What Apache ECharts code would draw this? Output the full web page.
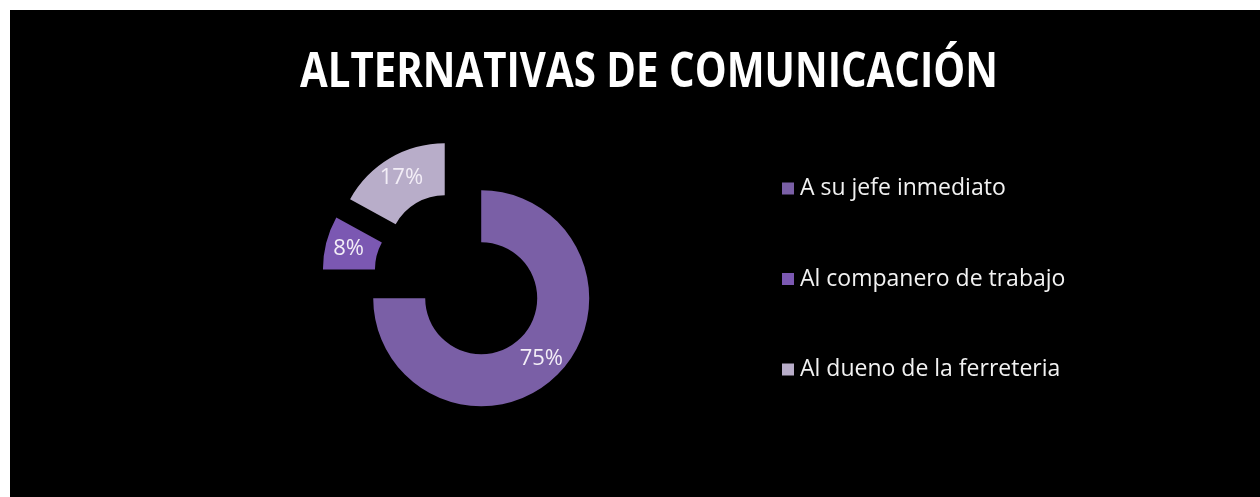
<!DOCTYPE html>
<html>
<head>
<meta charset="utf-8">
<script src="https://cdn.jsdelivr.net/npm/echarts@6/dist/echarts.min.js"></script>
<style>
  html, body { margin: 0; padding: 0; background: #ffffff; }
  #chart { position: absolute; left: 10px; top: 10px; width: 1250px; height: 487px; background: #000000; }
</style>
</head>
<body>
<div id="chart"></div>
<script>
// Chart content
const chartTitle = 'ALTERNATIVAS DE COMUNICACIÓN';
const categories = ['A su jefe inmediato', 'Al companero de trabajo', 'Al dueno de la ferreteria'];
const shares = [75, 8, 17];
const sliceColors = ['#7a5fa6', '#7b58b2', '#b8adc9'];

// Fit the title to the width of a narrow bold face
const titleFont = 'bold 49px "Open Sans", sans-serif';
const ctx = document.createElement('canvas').getContext('2d');
ctx.font = titleFont;
const titleScale = 698 / ctx.measureText(chartTitle).width;

const chart = echarts.init(document.getElementById('chart'));
chart.setOption({
  backgroundColor: '#000000',
  animation: false,
  graphic: [{
    type: 'text',
    x: 639,
    y: 63,
    scaleX: titleScale,
    style: {
      text: chartTitle,
      font: titleFont,
      fill: '#ffffff',
      align: 'center',
      verticalAlign: 'middle'
    }
  }],
  legend: {
    orient: 'vertical',
    left: 772,
    top: 166,
    padding: 0,
    icon: 'rect',
    itemWidth: 12,
    itemHeight: 12,
    itemGap: 65.5,
    selectedMode: false,
    textStyle: {
      color: '#f2f2f2',
      fontFamily: 'Open Sans',
      fontSize: 23,
      lineHeight: 25,
      padding: [0, 0, 0, 1]
    },
    data: categories
  },
  series: [{
    type: 'pie',
    center: [450, 267],
    radius: [56, 108],
    startAngle: 90,
    clockwise: true,
    selectedMode: 'multiple',
    selectedOffset: 30,
    avoidLabelOverlap: false,
    label: {
      show: true,
      position: 'inside',
      formatter: '{d}%',
      color: '#f3eef7',
      fontFamily: 'Open Sans',
      fontSize: 22
    },
    labelLine: { show: false },
    emphasis: { disabled: true },
    select: { itemStyle: {} },
    itemStyle: { borderWidth: 0 },
    data: categories.map((name, i) => ({
      name: name,
      value: shares[i],
      selected: true,
      itemStyle: { color: sliceColors[i] }
    }))
  }]
});
</script>
</body>
</html>
